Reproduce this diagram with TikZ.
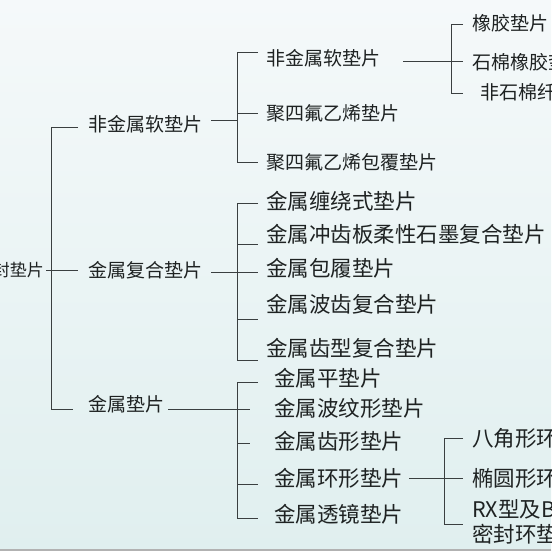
\documentclass[tikz,border=0pt]{standalone}
\usepackage{fontspec}
\newfontfamily\cjk{Noto Sans CJK SC}
\usetikzlibrary{positioning, calc}

\definecolor{bgtop}{HTML}{F5F9FA}
\definecolor{bgbot}{HTML}{E0EFEF}
\definecolor{xian}{HTML}{3A3F40}
\definecolor{zi}{HTML}{1E2222}

\begin{document}
\begin{tikzpicture}[x=1pt, y=-1pt,
    xiao/.style={anchor=west, inner sep=0pt, text=zi, font=\cjk\fontsize{19}{19}\selectfont},
    da/.style={anchor=west, inner sep=0pt, text=zi, font=\cjk\fontsize{21.5}{21.5}\selectfont},
    lian/.style={draw=xian, line width=0.9pt}]
        % 背景与边框
        \useasboundingbox (0,0) rectangle (551,551);
        \clip (0,0) rectangle (551,551);
        \shade[top color=bgtop, bottom color=bgbot] (0,0) rectangle (551,551);
        \draw[color=gray!60, line width=1.2pt] (0,550) -- (551,550);
        % 定义各级竖线的横坐标
        \def\xa{51}
        \def\xb{237}
        % 根节点
        \node (root) at (44,270) [anchor=east, inner sep=0pt, text=zi, font=\cjk\fontsize{17}{17}\selectfont] {密封垫片};
        % 第一级
        \node (fjsrdp) at (88,124) [xiao] {非金属软垫片};
        \node (jsfhdp) at (88,270) [xiao] {金属复合垫片};
        \node (jsdp) at (88,404) [xiao] {金属垫片};
        \draw[lian] (root.east) ++(2,0) -- (78,270);
        \draw[lian] (78,127) -- (\xa,127) -- (\xa,409) -- (73,409);
        % 非金属软垫片分支
        \node (fjs2) at (266,58) [xiao] {非金属软垫片};
        \node (jsfx) at (266,113) [xiao] {聚四氟乙烯垫片};
        \node (jsfxbf) at (266,162) [xiao] {聚四氟乙烯包覆垫片};
        \draw[lian] (fjsrdp.east) ++(9,-4) -- (\xb,120);
        \draw[lian] (258,52) -- (\xb,52) -- (\xb,162) -- (258,162);
        \draw[lian] (\xb,113) -- (258,113);
        % 第三级：软垫片
        \node (xj) at (472,23) [xiao] {橡胶垫片};
        \node (mxj) at (472,62) [xiao] {石棉橡胶垫片};
        \node (fsm) at (480,92) [xiao] {非石棉纤维橡胶垫片};
        \draw[lian] (fjs2.east) ++(23,3) -- (463,61);
        \draw[lian] (463,24) -- (451,24) -- (451,93) -- (463,93);
        % 金属复合垫片分支
        \node (crs) at (266,201) [da] {金属缠绕式垫片};
        \node (ccb) at (266,234) [da] {金属冲齿板柔性石墨复合垫片};
        \node (bl) at (266,268) [da] {金属包履垫片};
        \node (bc) at (266,304) [da] {金属波齿复合垫片};
        \node (cx) at (266,348) [da] {金属齿型复合垫片};
        \draw[lian] (jsfhdp.east) ++(9,2) -- (258,272);
        \draw[lian] (258,203) -- (\xb,203) -- (\xb,360) -- (258,360);
        \foreach \y in {244,319}
            \draw[lian] (\xb,\y) -- (258,\y);
        % 金属垫片分支
        \node (pdp) at (274,378) [da] {金属平垫片};
        \node (bwx) at (274,408) [da] {金属波纹形垫片};
        \node (cxdp) at (274,441) [da] {金属齿形垫片};
        \node (hx) at (274,478) [da] {金属环形垫片};
        \node (tj) at (274,514) [da] {金属透镜垫片};
        \draw[lian] (jsdp.east) ++(4,5) -- (250,409);
        \draw[lian] (258,382) -- (\xb,382) -- (\xb,518) -- (258,518);
        \draw[lian] (\xb,443) -- (250,443);
        \draw[lian] (\xb,484) -- (258,484);
        % 第三级：环形垫片
        \node (bj) at (472,438) [da] {八角形环垫};
        \node (ty) at (472,478) [da] {椭圆形环垫};
        \node (rx) at (472,509) [da] {RX型及BX型};
        \node (mf) at (472,534) [da] {密封环垫};
        \draw[lian] (hx.east) ++(6,0) -- (463,478);
        \draw[lian] (463,438) -- (444,438) -- (444,524) -- (463,524);
    \end{tikzpicture}
\end{document}
